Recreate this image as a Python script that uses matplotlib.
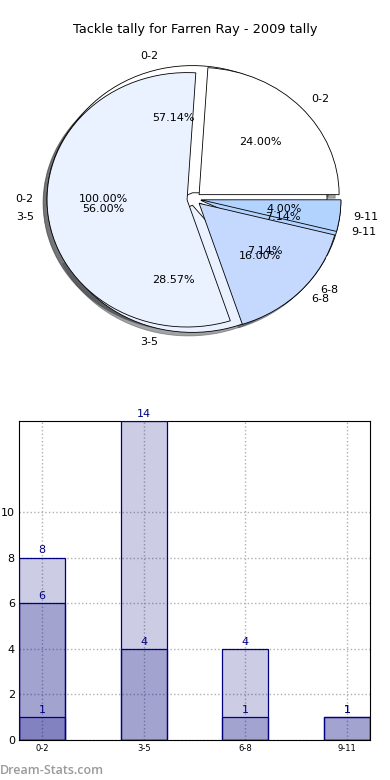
import numpy as np
import matplotlib
matplotlib.use("Agg")
import matplotlib.pyplot as plt

# tally data (three overlapping series)
groups = ["0-2", "3-5", "6-8", "9-11"]
tally_a = [6, 14, 4, 1]
tally_b = [8, 4, 1, 1]
tally_c = [1, 0, 0, 0]
pie_colors = ["#ffffff", "#eaf1ff", "#c5d9ff", "#b3d3ff"]
title = "Tackle tally for Farren Ray - 2009 tally"

fig = plt.figure(figsize=(3.9, 7.8), dpi=100)

# ---- pies, drawn on top of each other ----
ax1 = fig.add_axes([19/390, 1 - 358/780, 350/390, 318/780])
for vals in [tally_c, tally_b, tally_a]:
    v = [x for x in vals if x > 0]
    labs = [g for g, x in zip(groups, vals) if x > 0]
    cols = [c for c, x in zip(pie_colors, vals) if x > 0]
    wedges, texts, autotexts = ax1.pie(v, labels=labs, colors=cols, autopct="%1.2f%%",
                                       explode=[0.05] * len(v), shadow=True,
                                       wedgeprops=dict(edgecolor="black", linewidth=0.6),
                                       textprops=dict(fontsize=8))
ax1.set_aspect("auto")
ax1.set_xlim(-1.25, 1.25)
ax1.set_ylim(-1.25, 1.25)
fig.text(0.5, 1 - 30/780, title, ha="center", va="center", fontsize=9.3)

# ---- bars ----
ax2 = fig.add_axes([19/390, 1 - 740/780, 351/390, 319/780])
w = 0.45
x = np.arange(len(groups))
for vals in [tally_a, tally_b, tally_c]:
    ax2.bar(x, vals, width=w, align="edge", color="navy", alpha=0.2,
            edgecolor="none", zorder=2)
    ax2.bar(x, vals, width=w, align="edge", fill=False, edgecolor="navy",
            linewidth=0.9, zorder=3)
    for xi, v in zip(x, vals):
        if v > 0:
            ax2.text(xi + w / 2, v + 0.1, str(v), ha="center", va="bottom",
                     color="navy", fontsize=8, zorder=4)
ax2.set_xlim(0, 3 + w)
ax2.set_ylim(0, 14)
ax2.set_yticks([0, 2, 4, 6, 8, 10])
ax2.set_xticks(x + w / 2)
ax2.set_xticklabels(groups, fontsize=6)
ax2.tick_params(axis="y", labelsize=8, length=0, pad=3)
ax2.tick_params(axis="x", length=0, pad=3)
ax2.grid(True, linestyle=":", color="#b0b0b0", linewidth=1, zorder=0)
ax2.set_axisbelow(True)

fig.text(0.0, 1 - 771/780, "Dream-Stats.com", color="#9a9a9a", fontsize=9,
         family=["Open Sans", "DejaVu Sans"], fontweight="semibold",
         ha="left", va="center")

fig.savefig("out.png", dpi=100)
